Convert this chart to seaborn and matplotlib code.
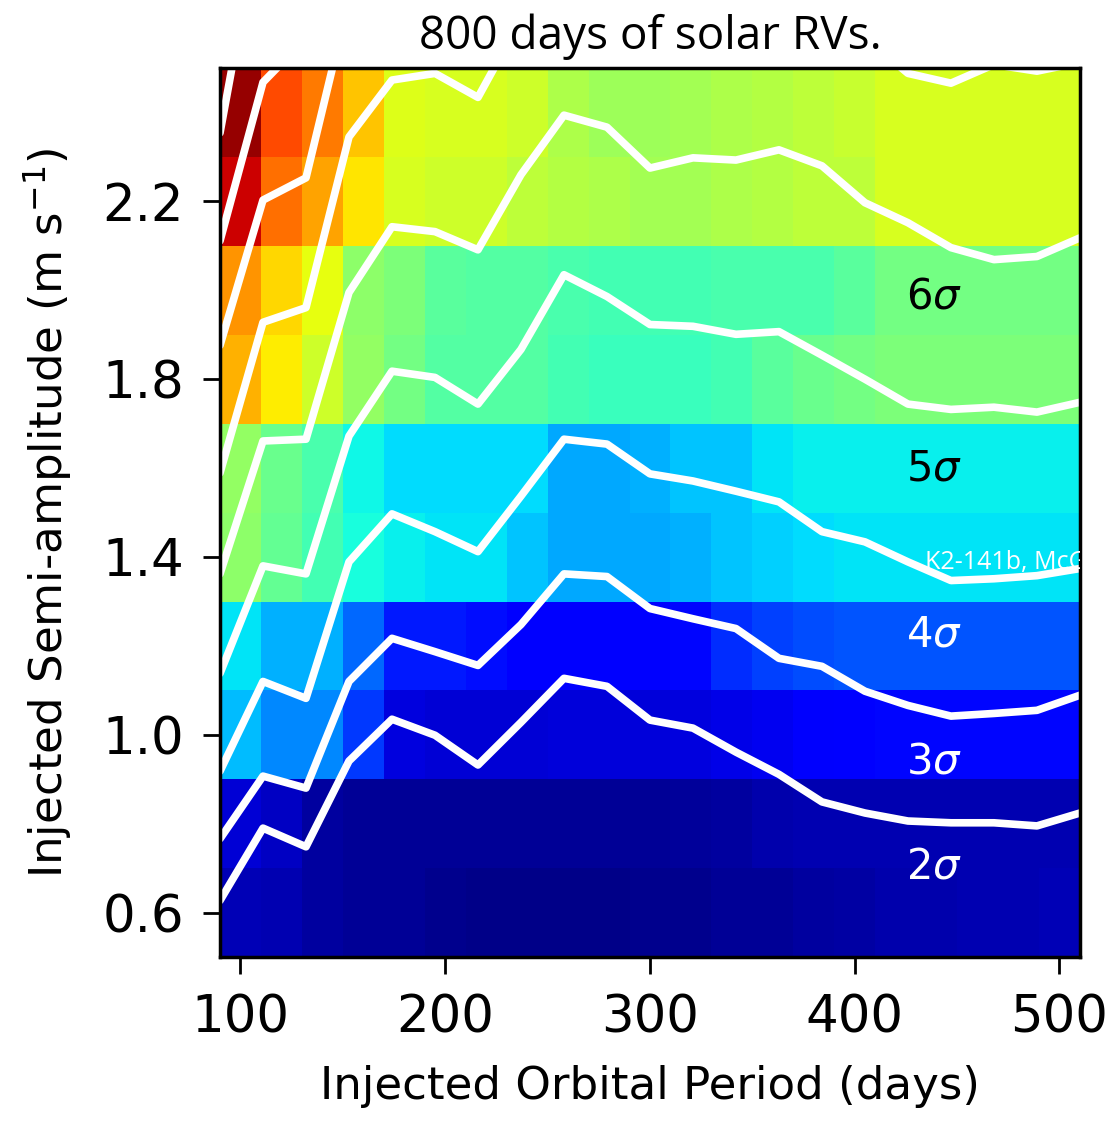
import matplotlib
matplotlib.use("Agg")
import matplotlib.pyplot as plt
import seaborn as sns
import numpy as np

# ---------------- data ----------------
# heat map cells: periods 100..500 (step 20), amplitudes 0.6..2.4 (step 0.2)
periods = [100, 120, 140, 160, 180, 200, 220, 240, 260, 280, 300,
           320, 340, 360, 380, 400, 420, 440, 460, 480, 500]
amplitudes = [0.6, 0.8, 1.0, 1.2, 1.4, 1.6, 1.8, 2.0, 2.2, 2.4]

row_06 = [0.05, 0.045, 0.03, 0.02, 0.02, 0.015, 0.01, 0.01, 0.01, 0.01, 0.015, 0.015, 0.02, 0.02, 0.03, 0.035, 0.04, 0.04, 0.045, 0.045, 0.05]
row_08 = [0.075, 0.06, 0.03, 0.02, 0.02, 0.02, 0.02, 0.02, 0.02, 0.02, 0.02, 0.025, 0.03, 0.04, 0.045, 0.045, 0.045, 0.045, 0.045, 0.045, 0.045]
row_10 = [0.31, 0.26, 0.26, 0.18, 0.085, 0.075, 0.075, 0.075, 0.08, 0.08, 0.08, 0.085, 0.09, 0.10, 0.11, 0.12, 0.13, 0.13, 0.13, 0.13, 0.13]
row_12 = [0.35, 0.30, 0.30, 0.23, 0.15, 0.15, 0.14, 0.12, 0.12, 0.12, 0.12, 0.13, 0.17, 0.19, 0.20, 0.21, 0.21, 0.21, 0.21, 0.21, 0.21]
row_14 = [0.52, 0.47, 0.43, 0.38, 0.36, 0.35, 0.35, 0.32, 0.29, 0.29, 0.29, 0.30, 0.32, 0.33, 0.34, 0.35, 0.35, 0.35, 0.35, 0.35, 0.35]
row_16 = [0.53, 0.48, 0.44, 0.37, 0.34, 0.34, 0.34, 0.34, 0.29, 0.29, 0.30, 0.32, 0.32, 0.35, 0.36, 0.36, 0.36, 0.36, 0.36, 0.36, 0.36]
row_18 = [0.72, 0.66, 0.60, 0.53, 0.49, 0.45, 0.45, 0.45, 0.43, 0.42, 0.42, 0.42, 0.43, 0.46, 0.48, 0.49, 0.50, 0.50, 0.50, 0.50, 0.50]
row_20 = [0.75, 0.68, 0.63, 0.52, 0.50, 0.46, 0.45, 0.45, 0.44, 0.43, 0.43, 0.43, 0.44, 0.44, 0.44, 0.46, 0.49, 0.49, 0.49, 0.49, 0.49]
row_22 = [0.93, 0.79, 0.735, 0.667, 0.61, 0.60, 0.60, 0.58, 0.57, 0.56, 0.55, 0.55, 0.56, 0.57, 0.58, 0.58, 0.61, 0.61, 0.61, 0.61, 0.61]
row_24 = [0.98, 0.83, 0.78, 0.70, 0.62, 0.61, 0.61, 0.60, 0.56, 0.54, 0.54, 0.55, 0.56, 0.57, 0.58, 0.59, 0.61, 0.61, 0.61, 0.61, 0.61]

# contour grid (periods) and contour line amplitudes
contour_periods = [90, 111, 132, 153, 174, 195, 216, 237, 258, 279, 300,
                   321, 342, 363, 384, 405, 426, 447, 468, 489, 510]
line_1 = [0.627, 0.790, 0.748, 0.941, 1.035, 0.999, 0.932, 1.028, 1.127, 1.109, 1.033, 1.015, 0.961, 0.911, 0.849, 0.824, 0.806, 0.802, 0.802, 0.795, 0.824]
line_2 = [0.766, 0.907, 0.880, 1.120, 1.217, 1.187, 1.156, 1.248, 1.362, 1.356, 1.284, 1.261, 1.239, 1.172, 1.154, 1.098, 1.066, 1.042, 1.048, 1.055, 1.089]
line_3 = [0.918, 1.120, 1.082, 1.389, 1.497, 1.457, 1.412, 1.537, 1.665, 1.654, 1.587, 1.571, 1.548, 1.524, 1.457, 1.434, 1.389, 1.347, 1.351, 1.358, 1.374]
line_4 = [1.138, 1.380, 1.362, 1.672, 1.818, 1.804, 1.744, 1.867, 2.035, 1.986, 1.923, 1.919, 1.901, 1.907, 1.854, 1.800, 1.744, 1.732, 1.737, 1.726, 1.748]
line_5 = [1.362, 1.661, 1.665, 1.995, 2.143, 2.132, 2.091, 2.260, 2.394, 2.367, 2.275, 2.298, 2.293, 2.316, 2.280, 2.197, 2.152, 2.096, 2.069, 2.076, 2.118]
line_6 = [1.589, 1.928, 1.961, 2.345, 2.473, 2.488, 2.434, 2.61, 2.65, 2.65, 2.65, 2.65, 2.65, 2.65, 2.62, 2.57, 2.488, 2.466, 2.508, 2.493, 2.513]
line_7 = [1.876, 2.203, 2.253, 2.654]
line_8 = [2.111, 2.468, 2.567]
line_9 = [2.354, 2.88]

sigma_labels = ["$2\\sigma$", "$3\\sigma$", "$4\\sigma$", "$5\\sigma$", "$6\\sigma$"]
sigma_label_amp = [0.703, 0.941, 1.225, 1.598, 1.986]
sigma_label_color = ["white", "white", "white", "black", "black"]
sigma_label_period = 438.6

# ---------------- plot ----------------
sns.set_style("ticks")
plt.rcParams["font.family"] = ["DejaVu Sans"]
plt.rcParams["mathtext.fontset"] = "dejavusans"
plt.rcParams["text.color"] = "black"
plt.rcParams["axes.labelcolor"] = "black"
plt.rcParams["xtick.color"] = "black"
plt.rcParams["ytick.color"] = "black"

fig = plt.figure(figsize=(11.19, 11.23), dpi=100)
ax = fig.add_axes([0.1966, 0.1478, 0.7685, 0.7916])

heat = np.array([row_06, row_08, row_10, row_12, row_14,
                 row_16, row_18, row_20, row_22, row_24])
half_p = (periods[1] - periods[0]) / 2
half_a = (amplitudes[1] - amplitudes[0]) / 2
ax.imshow(heat, origin="lower", aspect="auto", cmap="jet", vmin=0, vmax=1,
          interpolation="nearest",
          extent=[periods[0] - half_p, periods[-1] + half_p,
                  amplitudes[0] - half_a, amplitudes[-1] + half_a])

for ln in [line_1, line_2, line_3, line_4, line_5, line_6, line_7, line_8, line_9]:
    sns.lineplot(x=contour_periods[:len(ln)], y=ln, ax=ax, color="white",
                 linewidth=5.5, sort=False, estimator=None, legend=False)

for lab, amp, col in zip(sigma_labels, sigma_label_amp, sigma_label_color):
    ax.text(sigma_label_period, amp, lab, color=col, fontsize=30,
            ha="center", va="center")

ax.text(434.2, 1.387, "K2-141b, McGill", color="white", fontsize=18,
        family=["Open Sans", "DejaVu Sans"], ha="left", va="center", clip_on=True)

ax.set_xlim(periods[0] - half_p, periods[-1] + half_p)
ax.set_ylim(amplitudes[0] - half_a, amplitudes[-1] + half_a)
ax.set_xticks([100, 200, 300, 400, 500])
ax.set_yticks([0.6, 1.0, 1.4, 1.8, 2.2])
ax.set_yticklabels(["0.6", "1.0", "1.4", "1.8", "2.2"])
ax.tick_params(axis="both", labelsize=37, length=12, width=2, pad=14,
               color="black", labelcolor="black")
for sp in ax.spines.values():
    sp.set_linewidth(2.5)
    sp.set_color("black")

ax.set_xlabel("Injected Orbital Period (days)", fontsize=32.5, labelpad=16,
              color="black")
ax.set_ylabel("Injected Semi-amplitude (m s$^{-1}$)", fontsize=32.5,
              labelpad=20, color="black")
ax.set_title("800 days of solar RVs.", fontsize=33, color="black",
             family=["Open Sans", "DejaVu Sans"], pad=14)

fig.savefig("out.png", dpi=100)
